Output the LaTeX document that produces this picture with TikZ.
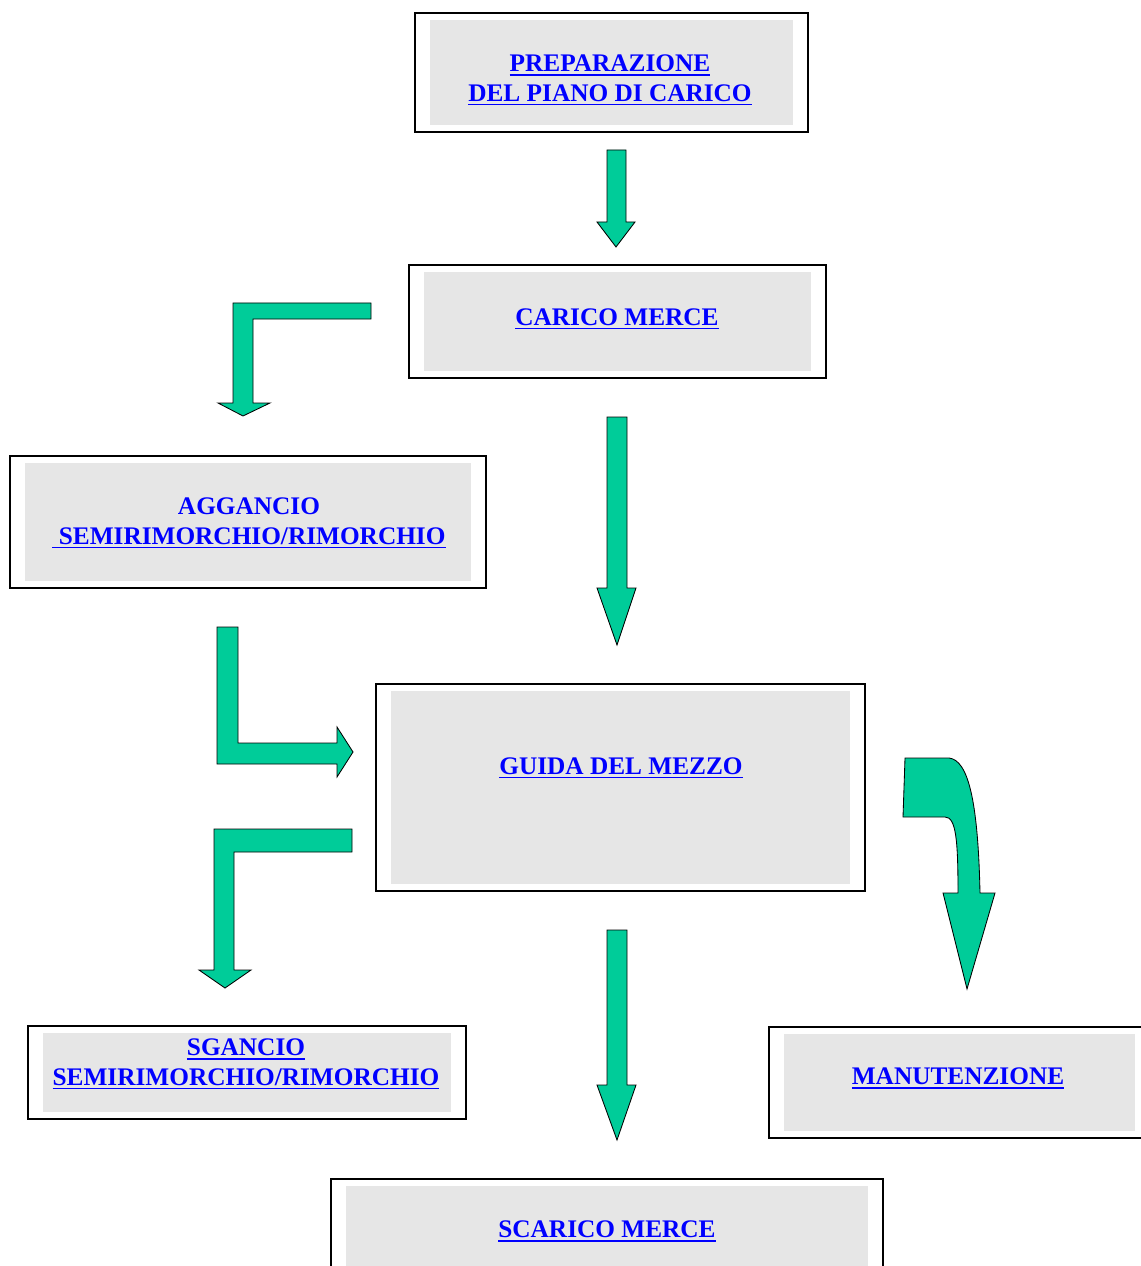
\documentclass[tikz,border=0pt]{standalone}
\usepackage{fontspec}
\setmainfont{Liberation Serif}
\usepackage{xcolor}
\usepackage{tikz}
\usetikzlibrary{positioning}

\definecolor{arrowgreen}{HTML}{00CC99}
\definecolor{boxgray}{HTML}{E6E6E6}
\definecolor{linkblue}{HTML}{0000FF}

% underlined link-like text
\newcommand{\lnk}[1]{\setbox0=\hbox{#1}\rlap{\rule[-3pt]{\wd0}{1.2pt}}\box0}

\begin{document}
\begin{tikzpicture}[x=0.025cm, y=-0.025cm,
  box/.style 2 args={draw=black, line width=1.1pt, fill=white, inner sep=0pt,
    minimum width=#1*0.025cm, minimum height=#2*0.025cm,
    path picture={\fill[boxgray] ([shift={(15,-7)}]path picture bounding box.south west)
      rectangle ([shift={(-15,7)}]path picture bounding box.north east);}},
  lbl/.style={align=center, inner sep=0pt, text=linkblue,
    font=\fontsize{18}{21.3}\selectfont\bfseries},
  blk/.style={fill=arrowgreen, draw=black, line width=0.6pt, line join=miter}]
  \useasboundingbox (0,0) rectangle (1140,1266);

  % boxes
  \node[box={393}{119}] (prep) at (611.5,72.5) {};
  \node[box={417}{113}] (carico) at (617.5,321.5) {};
  \node[box={476}{132}] (aggancio) at (248,522) {};
  \node[box={489}{207}] (guida) at (620.5,787.5) {};
  \node[box={438}{93}] (sgancio) at (247,1072.5) {};
  \node[box={381}{111}] (manut) at (959.5,1082.5) {};
  \node[box={552}{111}] (scarico) at (607,1234.5) {};

  % labels
  \node[lbl] (preptxt) at (610,80) {\lnk{PREPARAZIONE}\\\lnk{DEL PIANO DI CARICO}};
  \node[lbl] (caricotxt) at (617,319) {\lnk{CARICO MERCE}};
  \node[lbl] (aggtxt) at (249,523) {AGGANCIO\\\lnk{\ SEMIRIMORCHIO/RIMORCHIO}};
  \node[lbl] (guidatxt) at (621,768) {\lnk{GUIDA DEL MEZZO}};
  \node[lbl] (sgtxt) at (246,1064) {\lnk{SGANCIO}\\\lnk{SEMIRIMORCHIO/RIMORCHIO}};
  \node[lbl] (manuttxt) at (958,1078) {\lnk{MANUTENZIONE}};
  \node[lbl] (scaricotxt) at (607,1231) {\lnk{SCARICO MERCE}};

  % block arrows
  \draw[blk] (607,150) -- (626,150) -- (626,222) -- (635,222) -- (616,247)
    -- (597,222) -- (607,222) -- cycle;
  \draw[blk] (607,417) -- (627,417) -- (627,588) -- (636,588) -- (617,645)
    -- (597,588) -- (607,588) -- cycle;
  \draw[blk] (607,930) -- (627,930) -- (627,1085) -- (636,1085) -- (617,1140)
    -- (597,1085) -- (607,1085) -- cycle;
  \draw[blk] (371,303) -- (371,319) -- (253,319) -- (253,403) -- (270,403)
    -- (243,416) -- (218,403) -- (233,403) -- (233,303) -- cycle;
  \draw[blk] (217,627) -- (238,627) -- (238,743) -- (337,743) -- (337,727)
    -- (353,752) -- (337,777) -- (337,764) -- (217,764) -- cycle;
  \draw[blk] (352,829) -- (352,852) -- (234,852) -- (234,970) -- (251,970)
    -- (225,988) -- (199,970) -- (214,970) -- (214,829) -- cycle;
  \draw[blk] (905,758) -- (949,758) .. controls (968,760) and (978,800) .. (980,893)
    -- (995,893) -- (967,989) -- (943,893) -- (958,893)
    .. controls (958,840) and (956,817) .. (945,817) -- (903,817) -- cycle;
\end{tikzpicture}
\end{document}
